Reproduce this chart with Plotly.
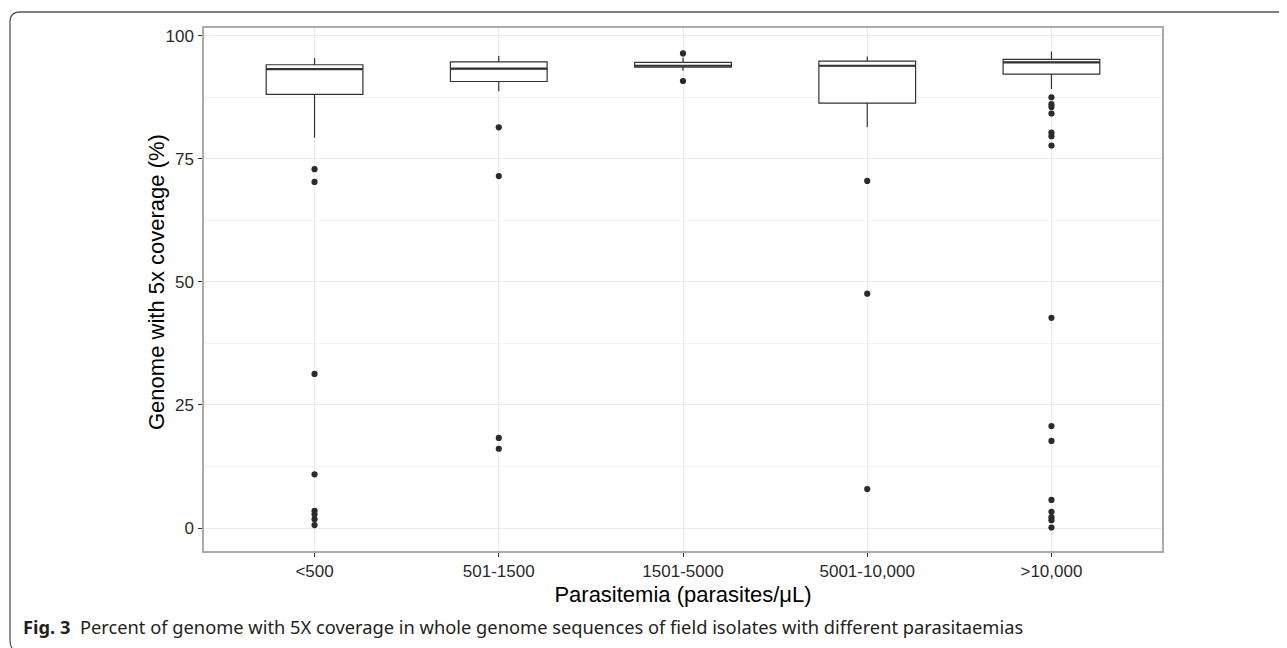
import plotly.graph_objects as go

# ---- data ----
categories = ["<500", "501-1500", "1501-5000", "5001-10,000", ">10,000"]
q1_vals = [88.1, 90.7, 93.6, 86.3, 92.2]
median_vals = [93.2, 93.3, 93.9, 93.9, 94.6]
q3_vals = [94.1, 94.7, 94.6, 94.85, 95.2]
lower_whisker = [79.3, 88.7, 92.9, 81.4, 89.2]
upper_whisker = [95.5, 95.9, 95.6, 95.8, 96.8]

outliers_lt500 = [72.9, 70.3, 31.3, 10.9, 3.5, 2.8, 1.8, 0.6]
outliers_501_1500 = [81.4, 71.5, 18.3, 16.1]
outliers_1501_5000 = [96.4, 90.8]
outliers_5001_10000 = [70.5, 47.6, 7.9]
outliers_gt10000 = [87.5, 86.1, 85.5, 84.2, 80.3, 79.6, 77.7, 42.7,
                    20.7, 17.7, 5.7, 3.3, 2.2, 1.6, 0.1]

y_ticks = [0, 25, 50, 75, 100]

outlier_groups = [outliers_lt500, outliers_501_1500, outliers_1501_5000,
                  outliers_5001_10000, outliers_gt10000]
out_x, out_y = [], []
for cat, vals in zip(categories, outlier_groups):
    out_x += [cat] * len(vals)
    out_y += vals

# page has an 8px body margin; figure coordinates = page coordinates - 8
OFF = 8
W, H = 1287 - OFF, 648 - OFF
ML, MT = 204 - OFF, 28 - OFF
MR = W - (1162 - OFF)
MB = H - (551 - OFF)

fig = go.Figure()

# boxes
fig.add_trace(go.Box(
    x=categories, q1=q1_vals, median=median_vals, q3=q3_vals,
    lowerfence=lower_whisker, upperfence=upper_whisker,
    boxpoints=False, whiskerwidth=0,
    fillcolor="white", line=dict(color="#333333", width=1.2),
    showlegend=False, hoverinfo="skip",
))
# thick median (ggplot fatten)
fig.add_trace(go.Box(
    x=categories, q1=median_vals, median=median_vals, q3=median_vals,
    lowerfence=median_vals, upperfence=median_vals,
    boxpoints=False, whiskerwidth=0,
    fillcolor="rgba(0,0,0,0)", line=dict(color="#333333", width=2.2),
    showlegend=False, hoverinfo="skip",
))
# outliers
fig.add_trace(go.Scatter(
    x=out_x, y=out_y, mode="markers",
    marker=dict(color="#2b2b2b", size=6.2),
    showlegend=False, hoverinfo="skip", cliponaxis=False,
))

def px2paper(px, py):
    # px, py in page pixels
    fx, fy = px - OFF, py - OFF
    return ((fx - ML) / (W - ML - MR), 1 - (fy - MT) / (H - MT - MB))

# rounded outer frame (open on right/bottom as in the figure)
pts = [(20, 652), (10, 652), (10, 640), (10, 22), (10, 12), (20, 12), (1300, 12)]
pp = [px2paper(*p) for p in pts]
path = (f"M {pp[0][0]},{pp[0][1]} Q {pp[1][0]},{pp[1][1]} {pp[2][0]},{pp[2][1]} "
        f"L {pp[3][0]},{pp[3][1]} Q {pp[4][0]},{pp[4][1]} {pp[5][0]},{pp[5][1]} "
        f"L {pp[6][0]},{pp[6][1]}")
fig.add_shape(type="path", path=path, xref="paper", yref="paper",
              line=dict(color="#555555", width=1.3))

cx, cy = px2paper(21, 626)
fig.add_annotation(
    x=cx, y=cy, xref="paper", yref="paper", xanchor="left", yanchor="middle",
    showarrow=False,
    text="<b>Fig. 3</b>  Percent of genome with 5X coverage in whole genome sequences "
         "of field isolates with different parasitaemias",
    font=dict(family="Noto Sans", size=18.3, color="#231f20"),
)

# y axis title
tx, ty = px2paper(156, 282)
fig.add_annotation(
    x=tx, y=ty, xref="paper", yref="paper", xanchor="center", yanchor="middle",
    showarrow=False, textangle=-90,
    text="Genome with 5x coverage (%)",
    font=dict(size=22, color="#000000"),
)

fig.update_layout(
    width=W, height=H,
    margin=dict(l=ML, r=MR, t=MT, b=MB, autoexpand=False),
    paper_bgcolor="white", plot_bgcolor="white",
    boxmode="overlay", boxgap=0.25,
    font=dict(family="Liberation Sans, Arial, sans-serif", color="#000000"),
)
fig.update_xaxes(
    type="category", categoryorder="array", categoryarray=categories,
    range=[-0.6, 4.6],
    showgrid=True, gridcolor="#EBEBEB", gridwidth=1,
    showline=True, mirror=True, linecolor="#ABABAB", linewidth=1.5,
    ticks="outside", ticklen=4, tickwidth=1, tickcolor="#333333",
    tickfont=dict(size=17, color="#2a2a2a"),
    title=dict(text="Parasitemia (parasites/μL)", font=dict(size=22, color="#000000"),
               standoff=6),
    zeroline=False,
)
fig.update_yaxes(
    range=[-4.67, 101.57], tickmode="array", tickvals=y_ticks,
    ticktext=[str(v) for v in y_ticks],
    showgrid=True, gridcolor="#EBEBEB", gridwidth=1.2,
    minor=dict(tickvals=[12.5, 37.5, 62.5, 87.5], showgrid=True,
               gridcolor="#F3F3F3", gridwidth=0.8, ticks=""),
    showline=True, mirror=True, linecolor="#ABABAB", linewidth=1.5,
    ticks="outside", ticklen=4, tickwidth=1, tickcolor="#333333",
    tickfont=dict(size=17, color="#2a2a2a"),
    ticklabelstandoff=1,
    zeroline=False,
)

fig.write_html("out.html")
